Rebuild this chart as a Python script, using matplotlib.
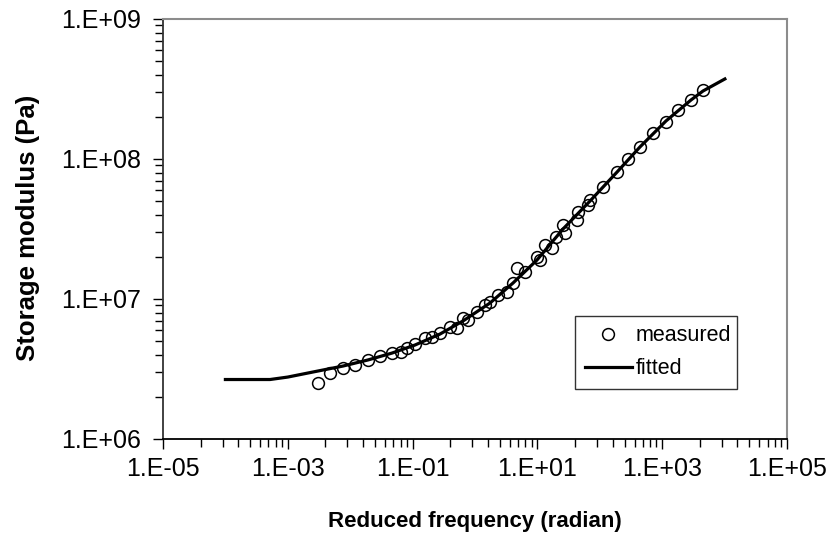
import numpy as np
import matplotlib
matplotlib.use("Agg")
import matplotlib.pyplot as plt
from matplotlib.ticker import FixedLocator, FuncFormatter, NullFormatter

plt.rcParams['font.family'] = ['Liberation Sans', 'DejaVu Sans']

# measured storage modulus vs reduced frequency
freq_meas = [3.05e-3, 4.74e-3, 7.67e-3, 1.19e-2, 1.93e-2, 3.01e-2, 4.68e-2, 6.52e-2,
             8.13e-2, 0.109, 0.158, 0.205, 0.275, 0.397, 0.515, 0.643, 0.773, 1.08,
             1.45, 1.74, 2.34, 3.26, 4.06, 4.71, 6.32, 9.86, 11.0, 13.2, 17.1, 19.9,
             25.7, 27.7, 43.1, 44.8, 64.7, 69.7, 112, 189, 283, 441, 713, 1151, 1791,
             2897, 4508]
g_meas = [2.51e6, 2.96e6, 3.21e6, 3.38e6, 3.67e6, 3.92e6, 4.11e6, 4.18e6,
          4.47e6, 4.77e6, 5.27e6, 5.35e6, 5.71e6, 6.31e6, 6.21e6, 7.32e6, 7.08e6, 8.07e6,
          9.06e6, 9.52e6, 1.07e7, 1.12e7, 1.30e7, 1.66e7, 1.56e7, 2.00e7, 1.90e7, 2.43e7,
          2.31e7, 2.77e7, 3.38e7, 2.96e7, 3.67e7, 4.18e7, 4.69e7, 5.09e7, 6.31e7, 8.07e7,
          1.00e8, 1.22e8, 1.53e8, 1.84e8, 2.24e8, 2.64e8, 3.11e8]

# fitted curve
freq_fit = [1.0e-4, 5.19e-4, 1.0e-3, 3.05e-3, 7.67e-3, 1.93e-2, 4.68e-2, 0.109, 0.275,
            0.643, 1.74, 4.06, 9.86, 25.7, 69.7, 189, 441, 1151, 2897, 4508, 1.01e4]
g_fit = [2.66e6, 2.66e6, 2.77e6, 3.06e6, 3.32e6, 3.67e6, 4.11e6, 4.69e6, 5.62e6,
         6.97e6, 9.36e6, 1.30e7, 1.90e7, 3.16e7, 5.01e7, 8.07e7, 1.22e8, 1.87e8, 2.64e8,
         3.06e8, 3.73e8]

x_major = [1e-5, 1e-3, 1e-1, 1e1, 1e3, 1e5]
y_major = [1e6, 1e7, 1e8, 1e9]

W, H = 836, 548
fig = plt.figure(figsize=(W/100, H/100), dpi=100)
ax = fig.add_axes([163/W, 1-439/H, (787-163)/W, (439-19)/H])

ax.plot(freq_fit, g_fit, '-', color='black', lw=2.3, label='fitted', zorder=2)
ax.plot(freq_meas, g_meas, 'o', mfc='none', mec='black', ms=8.5, mew=1.1,
        label='measured', zorder=3)

ax.set_xscale('log')
ax.set_yscale('log')
ax.set_xlim(1e-5, 1e5)
ax.set_ylim(1e6, 1e9)

# x axis: major every two decades, minor at k^2 within each step
ax.xaxis.set_major_locator(FixedLocator(x_major))
x_minor = [m * k**2 for m in x_major[:-1] for k in range(2, 10)]
ax.xaxis.set_minor_locator(FixedLocator(x_minor))
ax.xaxis.set_minor_formatter(NullFormatter())
fmt = FuncFormatter(lambda v, p: "1.E%+03d" % int(round(np.log10(v))))
ax.xaxis.set_major_formatter(fmt)

ax.yaxis.set_major_locator(FixedLocator(y_major))
y_minor = [m * k for m in y_major[:-1] for k in range(2, 10)]
ax.yaxis.set_minor_locator(FixedLocator(y_minor))
ax.yaxis.set_minor_formatter(NullFormatter())
ax.yaxis.set_major_formatter(fmt)

ax.tick_params(which='both', direction='out', labelsize=18, colors='black')
ax.tick_params(which='major', length=7, width=1, pad=6)
ax.tick_params(axis='y', which='major', pad=9)
ax.tick_params(which='minor', length=6, width=1)
ax.tick_params(top=False, right=False, which='both')

for s in ['top', 'right']:
    ax.spines[s].set_color('#8c8c8c')
    ax.spines[s].set_linewidth(1.5)
ax.spines['left'].set_color('#333333')
ax.spines['left'].set_linewidth(1.3)
ax.spines['bottom'].set_color('black')
ax.spines['bottom'].set_linewidth(1.3)

ax.set_xlabel('Reduced frequency (radian)', fontsize=16, fontweight='bold')
ax.set_ylabel('Storage modulus (Pa)', fontsize=18.5, fontweight='bold')
ax.xaxis.set_label_coords(475/W, 1-522/H, transform=fig.transFigure)
ax.yaxis.set_label_coords(28/W, 1-228/H, transform=fig.transFigure)
ax.xaxis.label.set_va('center')
ax.yaxis.label.set_va('center')

handles, labels = ax.get_legend_handles_labels()
leg = ax.legend(handles[::-1], labels[::-1], loc='lower left',
                bbox_to_anchor=(575/W, 1-389/H, (737-575)/W, (389-318)/H),
                bbox_transform=fig.transFigure, mode='expand', borderaxespad=0,
                fontsize=15.5, frameon=True, fancybox=False, handlelength=2.2,
                handletextpad=0.15, labelspacing=0.55, borderpad=0.45)
leg.get_frame().set_edgecolor('black')
leg.get_frame().set_linewidth(1.0)

fig.savefig('out.png', dpi=100)
